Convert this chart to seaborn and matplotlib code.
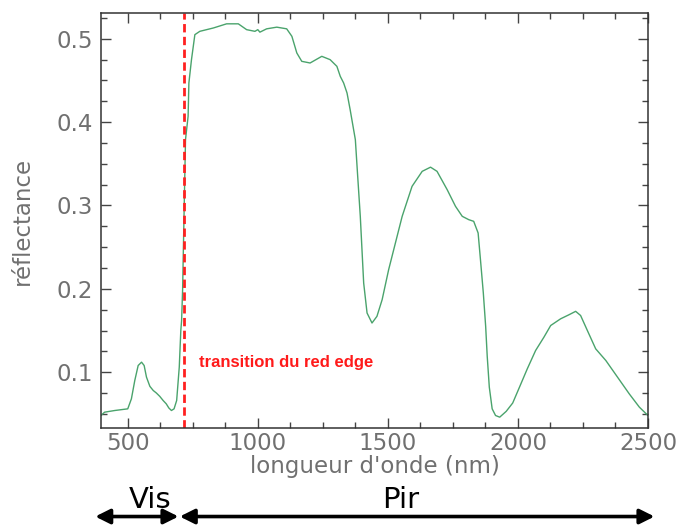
import numpy as np
import pandas as pd
import matplotlib
matplotlib.use("Agg")
import matplotlib.pyplot as plt
import matplotlib.transforms as mtransforms
from matplotlib.ticker import MultipleLocator
import seaborn as sns

# spectre de reflectance d'une vegetation
wavelength = [397, 411, 450, 500, 514, 527, 540, 553, 563, 572, 585, 598, 610, 623, 636,
              648, 658, 668, 678, 688, 694, 698, 704, 707, 711, 713, 717, 722, 732, 735,
              745, 758, 777, 829, 880, 925, 957, 989, 1000, 1008, 1034, 1073, 1111, 1131,
              1150, 1169, 1201, 1246, 1278, 1304, 1317, 1330, 1343, 1355, 1375, 1384,
              1394, 1407, 1420, 1439, 1458, 1478, 1503, 1529, 1555, 1593, 1632, 1664,
              1689, 1728, 1760, 1786, 1811, 1830, 1847, 1856, 1867, 1876, 1882, 1890,
              1901, 1914, 1930, 1955, 1980, 2006, 2036, 2068, 2100, 2126, 2164, 2197,
              2222, 2241, 2267, 2299, 2338, 2383, 2428, 2467, 2500]
reflectance = [0.048, 0.052, 0.054, 0.056, 0.068, 0.090, 0.108, 0.112, 0.108, 0.094,
               0.083, 0.078, 0.075, 0.071, 0.066, 0.062, 0.057, 0.054, 0.056, 0.066,
               0.090, 0.106, 0.150, 0.162, 0.200, 0.234, 0.299, 0.379, 0.407, 0.447,
               0.475, 0.505, 0.509, 0.513, 0.518, 0.518, 0.511, 0.509, 0.511, 0.508,
               0.512, 0.514, 0.512, 0.503, 0.483, 0.473, 0.471, 0.479, 0.475, 0.467,
               0.455, 0.447, 0.435, 0.415, 0.379, 0.335, 0.287, 0.207, 0.171, 0.159,
               0.167, 0.187, 0.223, 0.255, 0.287, 0.323, 0.341, 0.346, 0.341, 0.319,
               0.299, 0.287, 0.283, 0.281, 0.267, 0.235, 0.195, 0.155, 0.119, 0.082,
               0.056, 0.048, 0.046, 0.053, 0.063, 0.082, 0.104, 0.126, 0.142, 0.156,
               0.164, 0.169, 0.173, 0.168, 0.150, 0.128, 0.114, 0.094, 0.074, 0.058,
               0.048]

red_edge = 716
red_edge_label = "transition du red edge"
vis_band = (375, 695)
pir_band = (700, 2525)
band_names = ["Vis", "Pir"]
band_label_x = [585, 1550]

df = pd.DataFrame({"wavelength": wavelength, "reflectance": reflectance})

sns.set_style("ticks")
plt.rcParams["font.family"] = ["DejaVu Sans"]

fig = plt.figure(figsize=(6.79, 5.26), dpi=100)
ax = fig.add_axes([0.1487, 0.1863, 0.8056, 0.789])

sns.lineplot(data=df, x="wavelength", y="reflectance", ax=ax,
             color="#4aa36c", linewidth=1.0)

ax.axvline(red_edge, color="#ff2020", linestyle=(0, (3, 1.6)), linewidth=2)
ax.text(red_edge + 58, 0.112, red_edge_label, color="#ff1a1a", fontsize=12,
        fontweight="bold", family=["Liberation Sans"], va="center")

ax.set_xlim(397, 2500)
ax.set_ylim(0.033, 0.531)
ax.xaxis.set_major_locator(MultipleLocator(500))
ax.xaxis.set_minor_locator(MultipleLocator(125))
ax.yaxis.set_major_locator(MultipleLocator(0.1))
ax.yaxis.set_minor_locator(MultipleLocator(0.025))
ax.tick_params(which="both", direction="in", top=True, right=True,
               colors="#444444", labelcolor="#707070", labelsize=16.5)
ax.tick_params(axis="x", pad=3)
ax.tick_params(axis="y", pad=6)
ax.tick_params(which="major", length=7, width=1)
ax.tick_params(which="minor", length=4, width=1)
ax.set_yticks([0.1, 0.2, 0.3, 0.4, 0.5])
ax.set_yticklabels(["0.1", "0.2", "0.3", "0.4", "0.5"])
for sp in ax.spines.values():
    sp.set_color("#333333")
    sp.set_linewidth(1.1)

ax.set_xlabel("longueur d'onde (nm)", fontsize=16.5, color="#707070", labelpad=0)
ax.set_ylabel("réflectance", fontsize=16.5, color="#707070", labelpad=16)

# fleches des domaines spectraux sous le graphique
trans = mtransforms.blended_transform_factory(ax.transData, fig.transFigure)
for band in (vis_band, pir_band):
    ax.annotate("", xy=(band[1], 0.018), xytext=(band[0], 0.018),
                xycoords=trans, textcoords=trans, annotation_clip=False,
                arrowprops=dict(arrowstyle="<|-|>", color="black", lw=2.6,
                                mutation_scale=22, shrinkA=0, shrinkB=0))
for name, xpos in zip(band_names, band_label_x):
    ax.text(xpos, 0.05, name, transform=trans, ha="center", va="center",
            fontsize=21, color="black", clip_on=False)

fig.savefig("out.png", dpi=100)
